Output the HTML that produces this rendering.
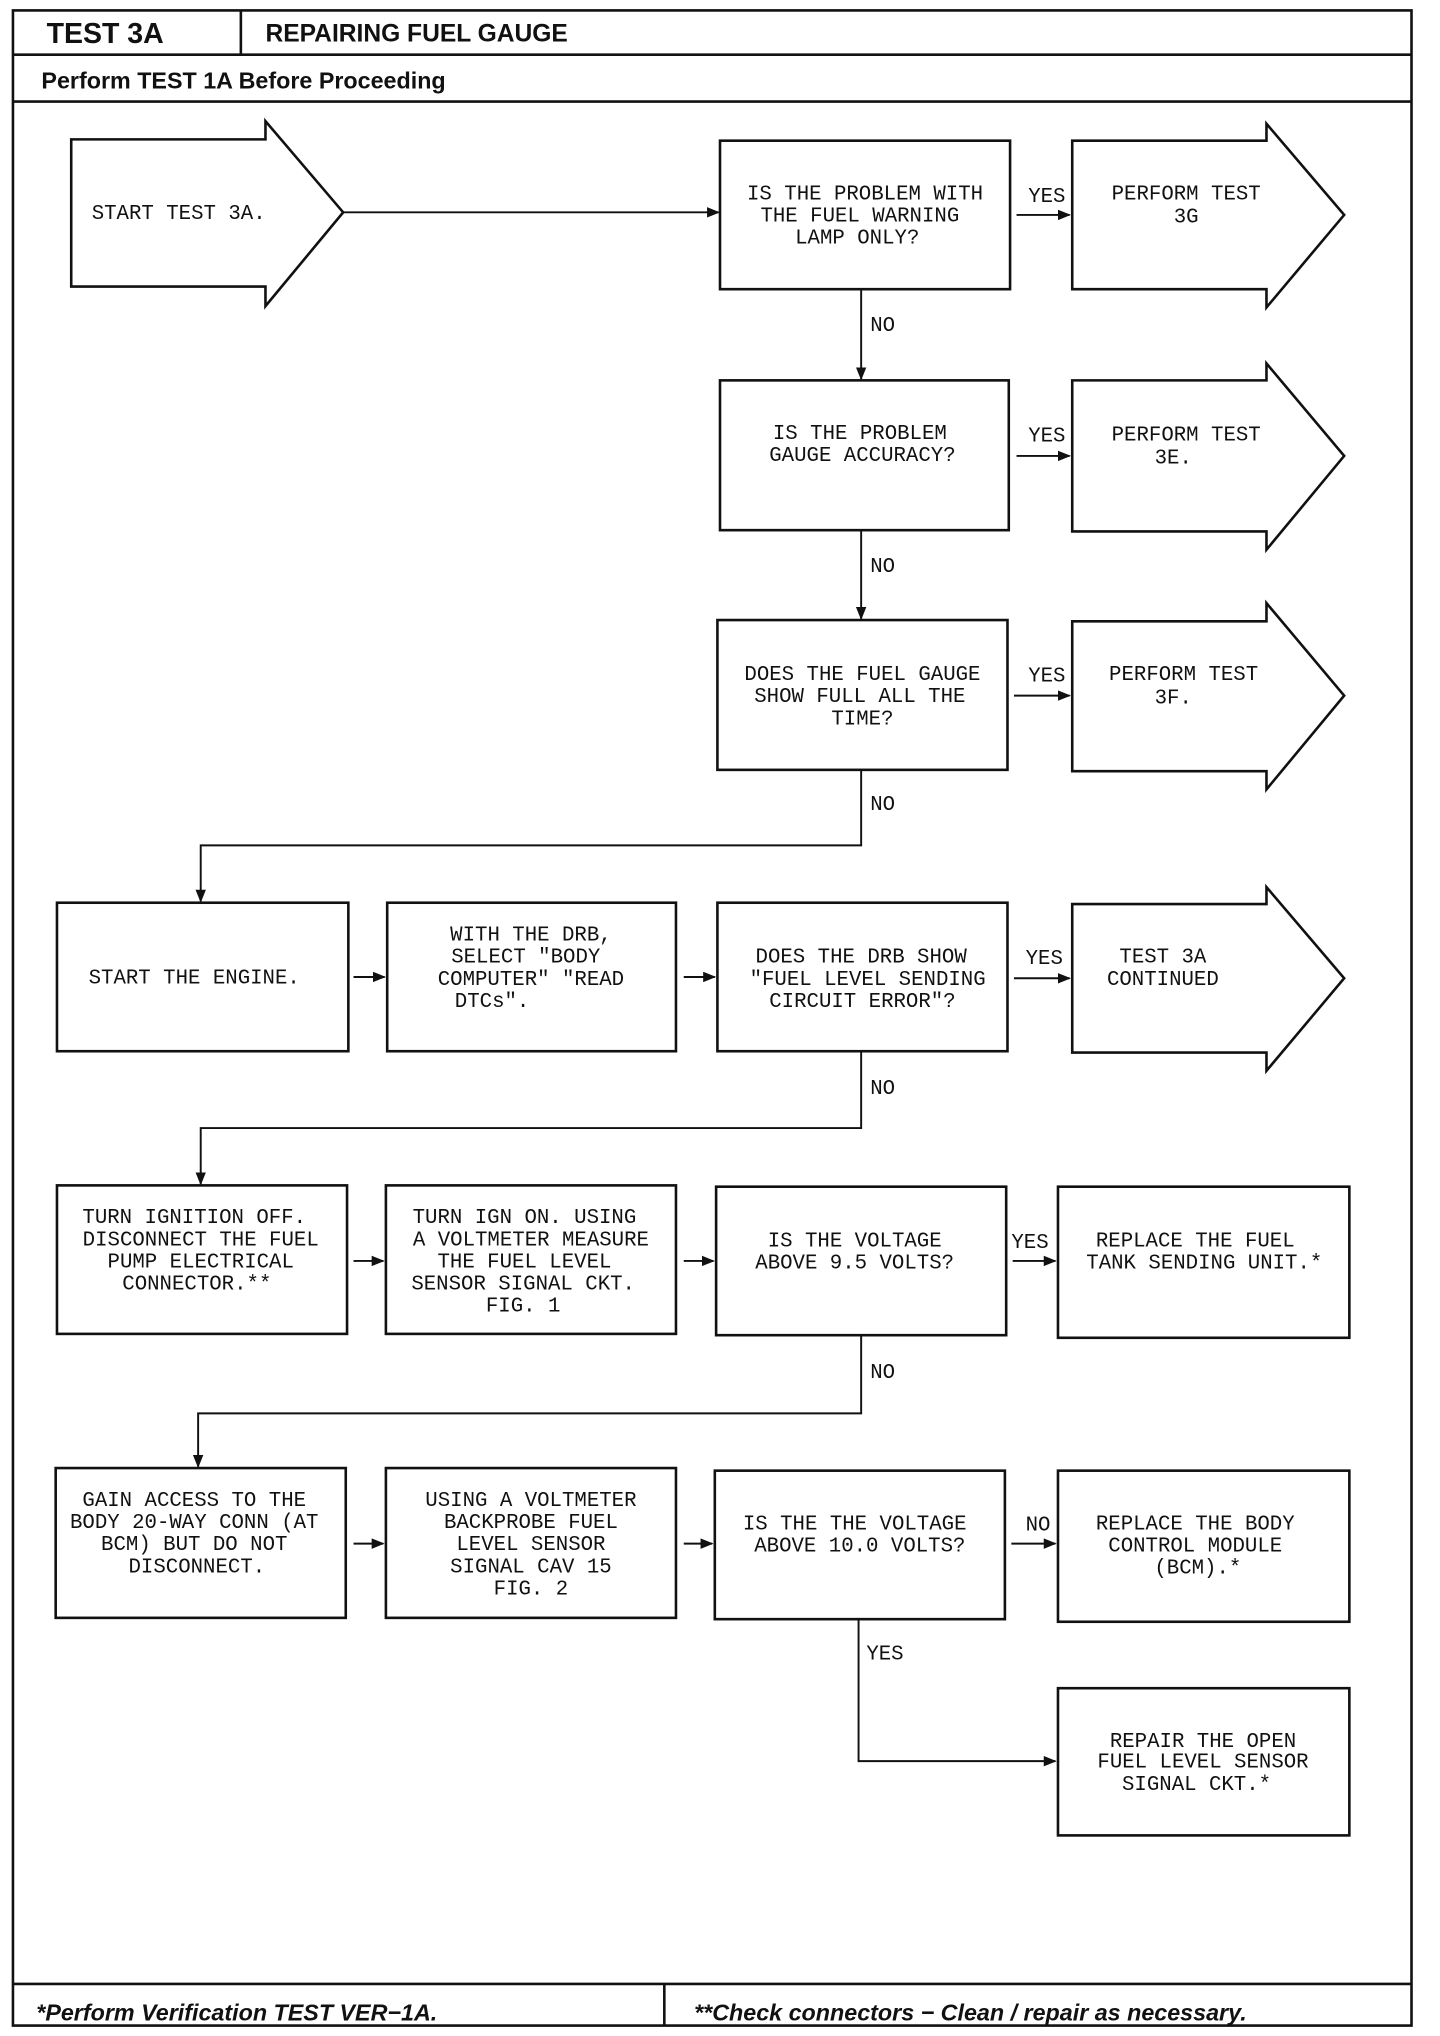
<!DOCTYPE html>
<html><head><meta charset="utf-8"><style>
html,body{margin:0;padding:0;background:#fff;}
svg{display:block;}
.t{font-family:"Liberation Mono",monospace;font-size:16px;fill:#111;text-anchor:middle;}
.l{font-family:"Liberation Mono",monospace;font-size:16px;fill:#111;}
.h{font-family:"Liberation Sans",sans-serif;font-weight:bold;fill:#111;}
</style></head><body>
<svg width="1440" height="2036" viewBox="0 0 1112 1563" preserveAspectRatio="none" xmlns="http://www.w3.org/2000/svg">
<defs><marker id="a" markerWidth="10" markerHeight="8" refX="9" refY="4" orient="auto" markerUnits="userSpaceOnUse"><path d="M0,0 L10,4 L0,8 z" fill="#111"/></marker></defs>
<g fill="none" stroke="#111" stroke-width="2">
<rect x="10" y="8" width="1080" height="1547"/>
<line x1="186" y1="8" x2="186" y2="42"/>
<line x1="10" y1="42" x2="1090" y2="42"/>
<line x1="10" y1="78" x2="1090" y2="78"/>
<line x1="10" y1="1523" x2="1090" y2="1523"/>
<line x1="513" y1="1523" x2="513" y2="1555"/>
<polygon points="55,107 205,107 205,93 265,163 205,235 205,220 55,220"/>
<polygon points="828,108 978,108 978,95 1038,165 978,236 978,222 828,222"/>
<polygon points="828,292 978,292 978,279 1038,350 978,422 978,408 828,408"/>
<polygon points="828,477 978,477 978,463 1038,534 978,606 978,592 828,592"/>
<polygon points="828,694 978,694 978,681 1038,751 978,822 978,808 828,808"/>
<rect x="556" y="108" width="224" height="114"/>
<rect x="556" y="292" width="223" height="115"/>
<rect x="554" y="476" width="224" height="115"/>
<rect x="44" y="693" width="225" height="114"/>
<rect x="299" y="693" width="223" height="114"/>
<rect x="554" y="693" width="224" height="114"/>
<rect x="44" y="910" width="224" height="114"/>
<rect x="298" y="910" width="224" height="114"/>
<rect x="553" y="911" width="224" height="114"/>
<rect x="817" y="911" width="225" height="116"/>
<rect x="43" y="1127" width="224" height="115"/>
<rect x="298" y="1127" width="224" height="115"/>
<rect x="552" y="1129" width="224" height="114"/>
<rect x="817" y="1129" width="225" height="116"/>
<rect x="817" y="1296" width="225" height="113"/>
</g>
<g fill="none" stroke="#111" stroke-width="1.5" marker-end="url(#a)">
<line x1="265" y1="163" x2="555" y2="163"/>
<line x1="785" y1="165" x2="826" y2="165"/>
<line x1="665" y1="222" x2="665" y2="291"/>
<line x1="785" y1="350" x2="826" y2="350"/>
<line x1="665" y1="407" x2="665" y2="475"/>
<line x1="783" y1="534" x2="826" y2="534"/>
<polyline points="665,591 665,649 155,649 155,692"/>
<line x1="273" y1="750" x2="297" y2="750"/>
<line x1="528" y1="750" x2="552" y2="750"/>
<line x1="783" y1="751" x2="826" y2="751"/>
<polyline points="665,807 665,866 155,866 155,909"/>
<line x1="273" y1="968" x2="296" y2="968"/>
<line x1="528" y1="968" x2="551" y2="968"/>
<line x1="782" y1="968" x2="815" y2="968"/>
<polyline points="665,1025 665,1085 153,1085 153,1126"/>
<line x1="273" y1="1185" x2="296" y2="1185"/>
<line x1="528" y1="1185" x2="550" y2="1185"/>
<line x1="781" y1="1185" x2="815" y2="1185"/>
<polyline points="663,1243 663,1352 815,1352"/>
</g>
<text class="h" x="36" y="33" font-size="22">TEST 3A</text>
<text class="h" x="205" y="32" font-size="19">REPAIRING FUEL GAUGE</text>
<text class="h" x="32" y="68" font-size="18">Perform TEST 1A Before Proceeding</text>
<text class="h" x="28" y="1551" font-size="18" font-style="italic">*Perform Verification TEST VER−1A.</text>
<text class="h" x="536" y="1551" font-size="18" font-style="italic">**Check connectors − Clean / repair as necessary.</text>
<g class="t">
<text x="138" y="168">START TEST 3A.</text>
<text x="668" y="153">IS THE PROBLEM WITH</text><text x="664" y="170">THE FUEL WARNING</text><text x="662" y="187">LAMP ONLY?</text>
<text x="916" y="153">PERFORM TEST</text><text x="916" y="171">3G</text>
<text x="664" y="337">IS THE PROBLEM</text><text x="666" y="354">GAUGE ACCURACY?</text>
<text x="916" y="338">PERFORM TEST</text><text x="906" y="356">3E.</text>
<text x="666" y="522">DOES THE FUEL GAUGE</text><text x="664" y="539">SHOW FULL ALL THE</text><text x="666" y="556">TIME?</text>
<text x="914" y="522">PERFORM TEST</text><text x="906" y="540">3F.</text>
<text x="150" y="755">START THE ENGINE.</text>
<text x="410" y="722">WITH THE DRB,</text><text x="406" y="739">SELECT "BODY</text><text x="410" y="756">COMPUTER" "READ</text><text x="380" y="773">DTCs".</text>
<text x="665" y="739">DOES THE DRB SHOW</text><text x="670" y="756">"FUEL LEVEL SENDING</text><text x="666" y="773">CIRCUIT ERROR"?</text>
<text x="898" y="739">TEST 3A</text><text x="898" y="756">CONTINUED</text>
<text x="150" y="939">TURN IGNITION OFF.</text><text x="155" y="956">DISCONNECT THE FUEL</text><text x="155" y="973">PUMP ELECTRICAL</text><text x="152" y="990">CONNECTOR.**</text>
<text x="405" y="939">TURN IGN ON. USING</text><text x="410" y="956">A VOLTMETER MEASURE</text><text x="405" y="973">THE FUEL LEVEL</text><text x="404" y="990">SENSOR SIGNAL CKT.</text><text x="404" y="1007">FIG. 1</text>
<text x="660" y="957">IS THE VOLTAGE</text><text x="660" y="974">ABOVE 9.5 VOLTS?</text>
<text x="923" y="957">REPLACE THE FUEL</text><text x="930" y="974">TANK SENDING UNIT.*</text>
<text x="150" y="1156">GAIN ACCESS TO THE</text><text x="150" y="1173">BODY 20-WAY CONN (AT</text><text x="150" y="1190">BCM) BUT DO NOT</text><text x="152" y="1207">DISCONNECT.</text>
<text x="410" y="1156">USING A VOLTMETER</text><text x="410" y="1173">BACKPROBE FUEL</text><text x="410" y="1190">LEVEL SENSOR</text><text x="410" y="1207">SIGNAL CAV 15</text><text x="410" y="1224">FIG. 2</text>
<text x="660" y="1174">IS THE THE VOLTAGE</text><text x="664" y="1191">ABOVE 10.0 VOLTS?</text>
<text x="923" y="1174">REPLACE THE BODY</text><text x="923" y="1191">CONTROL MODULE</text><text x="925" y="1208">(BCM).*</text>
<text x="929" y="1341">REPAIR THE OPEN</text><text x="929" y="1357">FUEL LEVEL SENSOR</text><text x="924" y="1374">SIGNAL CKT.*</text>
</g>
<g class="l">
<text x="794" y="155">YES</text><text x="672" y="254">NO</text>
<text x="794" y="339">YES</text><text x="672" y="439">NO</text>
<text x="794" y="523">YES</text><text x="672" y="622">NO</text>
<text x="792" y="740">YES</text><text x="672" y="840">NO</text>
<text x="781" y="958">YES</text><text x="672" y="1058">NO</text>
<text x="792" y="1175">NO</text><text x="669" y="1274">YES</text>
</g>
</svg>
</body></html>
